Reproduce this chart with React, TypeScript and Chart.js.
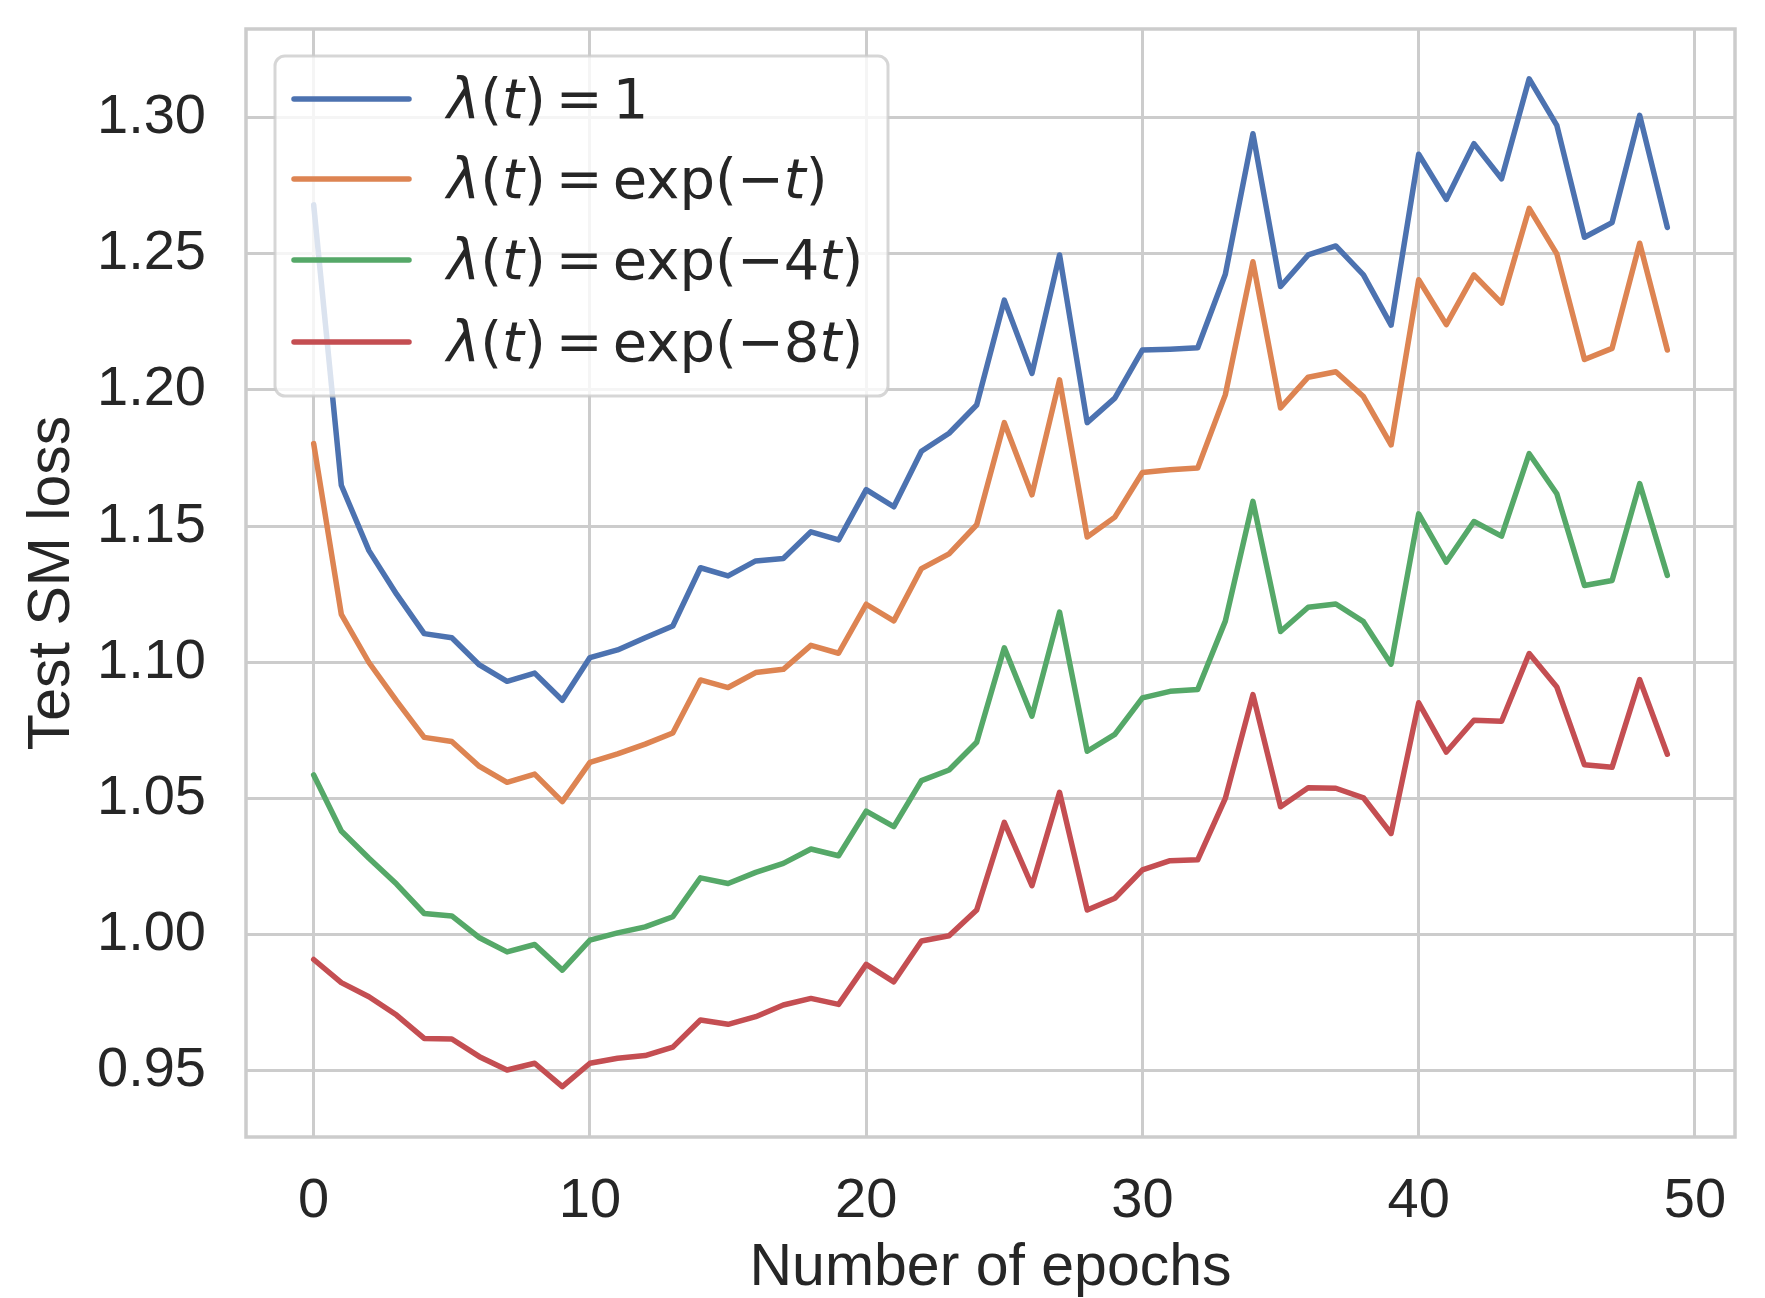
import React, { useEffect, useRef } from "react";
import { Chart, registerables } from "chart.js";

Chart.register(...registerables);

// ---------- data ----------
const epochs = [
  0, 1, 2, 3, 4, 5, 6, 7, 8, 9, 10, 11, 12, 13, 14, 15, 16, 17, 18, 19, 20, 21, 22, 23, 24,
  25, 26, 27, 28, 29, 30, 31, 32, 33, 34, 35, 36, 37, 38, 39, 40, 41, 42, 43, 44, 45, 46, 47, 48, 49,
];

const lossConst = [
  1.268, 1.165, 1.141, 1.125, 1.1105, 1.109, 1.099, 1.093, 1.096, 1.086,
  1.1017, 1.1045, 1.109, 1.1133, 1.1347, 1.1317, 1.1372, 1.1381, 1.1479, 1.1449,
  1.1634, 1.1571, 1.1775, 1.1841, 1.1945, 1.233, 1.2061, 1.2496, 1.188, 1.197,
  1.2147, 1.215, 1.2155, 1.2425, 1.2941, 1.238, 1.2496, 1.2529, 1.2423, 1.2238,
  1.2866, 1.27, 1.2905, 1.2776, 1.3143, 1.2972, 1.2561, 1.2615, 1.3009, 1.2597,
];

const lossExp1 = [
  1.1803, 1.1176, 1.0999, 1.0858, 1.0724, 1.0709, 1.0617, 1.0559, 1.0589, 1.0488,
  1.0632, 1.0663, 1.0699, 1.074, 1.0935, 1.0907, 1.0962, 1.0974, 1.1062, 1.1033,
  1.1213, 1.1152, 1.1344, 1.1398, 1.1505, 1.188, 1.1615, 1.2037, 1.146, 1.1533,
  1.1697, 1.1707, 1.1713, 1.1982, 1.2471, 1.1934, 1.2047, 1.2067, 1.1976, 1.1798,
  1.2405, 1.224, 1.2423, 1.2319, 1.2667, 1.25, 1.2112, 1.2153, 1.2539, 1.2147,
];

const lossExp4 = [
  1.0586, 1.038, 1.028, 1.0185, 1.0077, 1.0068, 0.9988, 0.9936, 0.9963, 0.9869,
  0.9979, 1.0006, 1.0028, 1.0065, 1.0208, 1.0187, 1.0228, 1.0261, 1.0314, 1.0289,
  1.0453, 1.0396, 1.0565, 1.0604, 1.0706, 1.1053, 1.0802, 1.1184, 1.0673, 1.0735,
  1.0869, 1.0893, 1.09, 1.1151, 1.1591, 1.1113, 1.1202, 1.1214, 1.1149, 1.0993,
  1.1545, 1.1368, 1.1517, 1.1463, 1.1766, 1.1619, 1.1282, 1.13, 1.1656, 1.1319,
];

const lossExp8 = [
  0.9908, 0.9823, 0.9771, 0.9704, 0.9618, 0.9616, 0.9551, 0.9502, 0.9527, 0.9441,
  0.9527, 0.9545, 0.9555, 0.9586, 0.9686, 0.967, 0.9698, 0.9741, 0.9765, 0.9743,
  0.989, 0.9826, 0.9976, 0.9995, 1.009, 1.0412, 1.0179, 1.0522, 1.009, 1.0133,
  1.0237, 1.0271, 1.0274, 1.05, 1.0881, 1.0469, 1.0539, 1.0537, 1.0502, 1.0371,
  1.0851, 1.067, 1.0787, 1.0783, 1.1032, 1.0909, 1.0623, 1.0614, 1.0936, 1.0662,
];

const seriesLabels = ["λ(t) = 1", "λ(t) = exp(−t)", "λ(t) = exp(−4t)", "λ(t) = exp(−8t)"];

// legend text split into (text, style) runs: i = italic, n = upright, op = relation
const legendRuns: [string, string][][] = [
  [["λ", "i"], ["(", "n"], ["t", "i"], [")", "n"], ["=", "op"], ["1", "n"]],
  [["λ", "i"], ["(", "n"], ["t", "i"], [")", "n"], ["=", "op"], ["exp(−", "n"], ["t", "i"], [")", "n"]],
  [["λ", "i"], ["(", "n"], ["t", "i"], [")", "n"], ["=", "op"], ["exp(−4", "n"], ["t", "i"], [")", "n"]],
  [["λ", "i"], ["(", "n"], ["t", "i"], [")", "n"], ["=", "op"], ["exp(−8", "n"], ["t", "i"], [")", "n"]],
];

const seriesColors = ["#4C72B0", "#DD8452", "#55A868", "#C44E52"];

const xTicks = [0, 10, 20, 30, 40, 50];
const yTicks = [0.95, 1.0, 1.05, 1.1, 1.15, 1.2, 1.25, 1.3];

const xLabel = "Number of epochs";
const yLabel = "Test SM loss";

// ---------- plugins ----------
const framePlugin = {
  id: "frameBorder",
  afterDatasetsDraw(chart: any) {
    const { ctx, chartArea } = chart;
    const { left, top, right, bottom } = chartArea;
    ctx.save();
    ctx.strokeStyle = "#cccccc";
    ctx.lineWidth = 3.5;
    ctx.strokeRect(left, top, right - left, bottom - top);
    ctx.restore();
  },
};

const mathLegendPlugin = {
  id: "mathLegend",
  afterDraw(chart: any) {
    const { ctx, chartArea } = chart;
    const bx = chartArea.left + 29;
    const by = chartArea.top + 27;
    const bw = 613;
    const bh = 340;
    const fontSize = 56;
    ctx.save();
    ctx.beginPath();
    ctx.roundRect(bx, by, bw, bh, 10);
    ctx.fillStyle = "rgba(255,255,255,0.8)";
    ctx.fill();
    ctx.strokeStyle = "rgba(204,204,204,0.8)";
    ctx.lineWidth = 3;
    ctx.stroke();

    const rowOffsets = [43, 123, 204, 286];
    legendRuns.forEach((runs, i) => {
      const cy = by + rowOffsets[i];
      ctx.beginPath();
      ctx.moveTo(bx + 19, cy);
      ctx.lineTo(bx + 134, cy);
      ctx.strokeStyle = seriesColors[i];
      ctx.lineWidth = 5.5;
      ctx.lineCap = "round";
      ctx.stroke();

      let x = bx + 172;
      const baseY = cy + 19;
      ctx.fillStyle = "#262626";
      ctx.textBaseline = "alphabetic";
      ctx.textAlign = "left";
      runs.forEach(([text, style]) => {
        ctx.font = `${style === "i" ? "italic " : ""}${fontSize}px "DejaVu Sans"`;
        if (style === "op") x += fontSize * 0.18;
        ctx.fillText(text, x, baseY);
        x += ctx.measureText(text).width;
        if (style === "op") x += fontSize * 0.18;
      });
    });
    ctx.restore();
  },
};

const zeroPad = (s: any) => {
  s.paddingTop = 0;
  s.paddingBottom = 0;
  s.paddingLeft = 0;
  s.paddingRight = 0;
};

export default function App() {
  const canvasRef = useRef<HTMLCanvasElement | null>(null);

  useEffect(() => {
    document.body.style.margin = "0";
    const canvas = canvasRef.current;
    if (!canvas) return;
    const seriesValues = [lossConst, lossExp1, lossExp4, lossExp8];
    const chart = new Chart(canvas, {
      type: "line",
      data: {
        datasets: seriesValues.map((vals, si) => ({
          label: seriesLabels[si],
          data: epochs.map((e, i) => ({ x: e, y: vals[i] })),
          borderColor: seriesColors[si],
          backgroundColor: seriesColors[si],
          borderWidth: 5.5,
          pointRadius: 0,
          tension: 0,
          fill: false,
          borderJoinStyle: "round",
          borderCapStyle: "round",
          order: 3 - si,
        })),
      },
      options: {
        responsive: false,
        animation: false,
        devicePixelRatio: 1,
        layout: { padding: { left: 0, right: 30, top: 29, bottom: 0 } },
        plugins: {
          legend: { display: false },
          tooltip: { enabled: false },
        },
        scales: {
          x: {
            type: "linear",
            min: -2.45,
            max: 51.45,
            afterBuildTicks: (s: any) => {
              s.ticks = xTicks.map((v) => ({ value: v }));
            },
            afterFit: (s: any) => {
              s.height = 161;
              zeroPad(s);
            },
            grid: { color: "#cccccc", lineWidth: 3, drawTicks: false },
            border: { display: false },
            ticks: {
              padding: 31,
              autoSkip: false,
              maxRotation: 0,
              color: "#262626",
              font: { family: "Liberation Sans", size: 56 },
              callback: (v: any) => String(v),
            },
            title: {
              display: true,
              text: xLabel,
              color: "#262626",
              font: { family: "Liberation Sans", size: 59, lineHeight: 1 },
              padding: { top: 0, bottom: 0 },
            },
          },
          y: {
            type: "linear",
            min: 0.9256,
            max: 1.3326,
            afterBuildTicks: (s: any) => {
              s.ticks = yTicks.map((v) => ({ value: v }));
            },
            afterFit: (s: any) => {
              s.width = 246;
              zeroPad(s);
            },
            grid: { color: "#cccccc", lineWidth: 3, drawTicks: false },
            border: { display: false },
            ticks: {
              padding: 40,
              autoSkip: false,
              color: "#262626",
              font: { family: "Liberation Sans", size: 56 },
              callback: (v: any) => Number(v).toFixed(2),
            },
            title: {
              display: true,
              text: yLabel,
              color: "#262626",
              font: { family: "Liberation Sans", size: 59, lineHeight: 1 },
              padding: { top: 23, bottom: 0 },
            },
          },
        },
      },
      plugins: [framePlugin, mathLegendPlugin],
    } as any);
    return () => chart.destroy();
  }, []);

  return (
    <div style={{ width: 1765, height: 1298, background: "#ffffff" }}>
      <canvas
        ref={canvasRef}
        width={1765}
        height={1298}
        style={{ display: "block", width: 1765, height: 1298 }}
      />
    </div>
  );
}
